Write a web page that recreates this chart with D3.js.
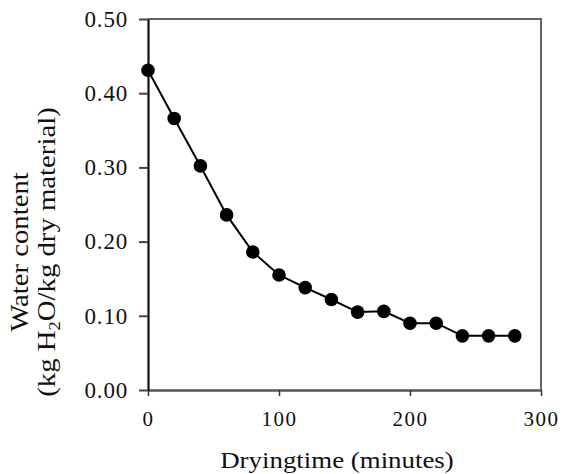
<!DOCTYPE html>
<html>
<head>
<meta charset="utf-8">
<script src="https://cdn.jsdelivr.net/npm/d3@7"></script>
<style>
  body { margin: 0; background: #fff; }
</style>
</head>
<body>
<div id="chart"></div>
<script>
// drying curve data
const dryingTime = [0, 20, 40, 60, 80, 100, 120, 140, 160, 180, 200, 220, 240, 260, 280];
const waterContent = [0.431, 0.366, 0.302, 0.236, 0.186, 0.155, 0.138, 0.122, 0.105, 0.106, 0.090, 0.090, 0.073, 0.073, 0.073];
const xTicks = [0, 100, 200, 300];
const yTicks = [0, 0.1, 0.2, 0.3, 0.4, 0.5];

const serif = '"Liberation Serif", "DejaVu Serif", serif';
const width = 563, height = 474;
const margin = {top: 19, right: 22, bottom: 84, left: 148};
const plotW = width - margin.left - margin.right;
const plotH = height - margin.top - margin.bottom;

const svg = d3.select('#chart').append('svg')
    .attr('width', width)
    .attr('height', height)
    .style('font-family', serif);

const g = svg.append('g')
    .attr('transform', `translate(${margin.left},${margin.top})`);

const x = d3.scaleLinear().domain([0, 300]).range([0, plotW]);
const y = d3.scaleLinear().domain([0, 0.5]).range([plotH, 0]);

// top + right frame
g.append('path')
    .attr('d', `M0,0H${plotW}V${plotH}`)
    .attr('fill', 'none')
    .attr('stroke', '#666')
    .attr('stroke-width', 2);

// x axis
const xAxis = g.append('g')
    .attr('transform', `translate(0,${plotH})`)
    .call(d3.axisBottom(x).tickValues(xTicks).tickSize(6).tickSizeOuter(0).tickPadding(15));
xAxis.attr('font-family', null);
xAxis.select('.domain').attr('stroke', '#555').attr('stroke-width', 2.5);
xAxis.selectAll('.tick line').attr('stroke', '#333').attr('stroke-width', 1.5);
xAxis.selectAll('.tick text')
    .style('font-family', serif)
    .style('font-size', '21px')
    .attr('letter-spacing', '1.5px')
    .attr('fill', '#111');

// y axis
const yAxis = g.append('g')
    .call(d3.axisLeft(y).tickValues(yTicks).tickFormat(d3.format('.2f')).tickSize(9).tickSizeOuter(0).tickPadding(11));
yAxis.attr('font-family', null);
yAxis.select('.domain').attr('stroke', '#111').attr('stroke-width', 2.2);
yAxis.selectAll('.tick line').attr('stroke', '#444').attr('stroke-width', 2);
yAxis.selectAll('.tick text')
    .style('font-family', serif)
    .style('font-size', '23px')
    .attr('letter-spacing', '0.8px')
    .attr('fill', '#111');

// line + markers
const pts = dryingTime.map((t, i) => [t, waterContent[i]]);
g.append('path')
    .datum(pts)
    .attr('fill', 'none')
    .attr('stroke', '#000')
    .attr('stroke-width', 2)
    .attr('d', d3.line().x(d => x(d[0])).y(d => y(d[1])));

g.selectAll('.dot')
    .data(pts)
    .enter().append('circle')
    .attr('class', 'dot')
    .attr('cx', d => x(d[0]))
    .attr('cy', d => y(d[1]))
    .attr('r', 6.8)
    .attr('fill', '#000');

// axis titles (reference text is a bit stretched, so scale it)
svg.append('text')
    .attr('transform', 'translate(337,468) scale(1.12,1)')
    .attr('text-anchor', 'middle')
    .style('font-family', serif)
    .style('font-size', '24px')
    .attr('fill', '#111')
    .text('Dryingtime (minutes)');

const yTitle = svg.append('text')
    .attr('transform', 'translate(28,252) rotate(-90) scale(1.15,1)')
    .attr('text-anchor', 'middle')
    .style('font-family', serif)
    .style('font-size', '25px')
    .attr('fill', '#111');
yTitle.append('tspan').attr('x', 0).attr('y', 0).text('Water content');
const l2 = yTitle.append('tspan').attr('x', 0).attr('y', 27);
l2.append('tspan').text('(kg H');
l2.append('tspan').attr('dy', 5).style('font-size', '16px').text('2');
l2.append('tspan').attr('dy', -5).text('O/kg dry material)');
</script>
</body>
</html>
